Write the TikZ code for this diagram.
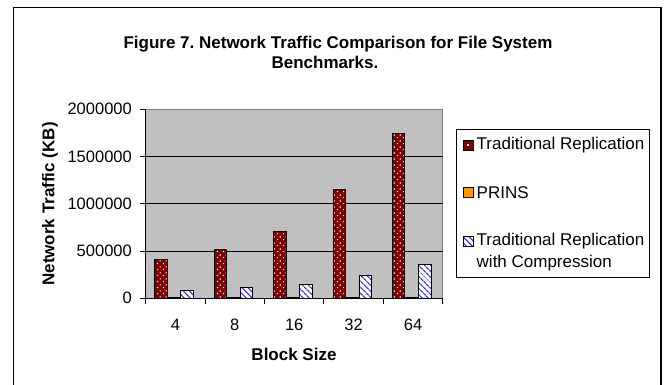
\documentclass[tikz,border=0pt]{standalone}
\usepackage{fontspec}
\setmainfont{Liberation Sans}
\usetikzlibrary{patterns,patterns.meta}
\definecolor{trad}{RGB}{128,0,0}
\definecolor{prins}{RGB}{255,153,0}
\definecolor{hatch}{RGB}{51,51,255}
\definecolor{plotbg}{RGB}{192,192,192}
\definecolor{plotedge}{RGB}{128,128,128}
\tikzdeclarepattern{name=wdots, type=uncolored,
  bounding box={(0pt,0pt) and (6pt,6pt)}, tile size={(6pt,6pt)},
  code={\fill (1pt,1pt) rectangle (2.3pt,2.3pt); \fill (4pt,4pt) rectangle (5.3pt,5.3pt);}}
\frenchspacing
\begin{document}
\begin{tikzpicture}[x=1pt,y=-1pt,
  lbl/.style={font=\fontsize{16.5}{19}\selectfont, inner sep=0pt},
  legtext/.style={font=\fontsize{17}{19}\selectfont, inner sep=0pt},
  ttl/.style={font=\bfseries\fontsize{17}{20}\selectfont, inner sep=0pt},
  tradbar/.style={preaction={fill=trad}, pattern=wdots, pattern color=white, draw=black, line width=0.9pt},
  prinsbar/.style={fill=prins, draw=black, line width=0.9pt},
  compbar/.style={preaction={fill=white}, pattern={Lines[angle=-45,distance=4pt,line width=1.3pt]}, pattern color=hatch, draw=black, line width=0.9pt},
  grid/.style={draw=black, line width=0.9pt},
  axisline/.style={draw=black, line width=0.9pt}]
\useasboundingbox (0,0) rectangle (667,385);
\fill[white] (0,0) rectangle (667,385);
% outer frame
\draw[line width=1.4pt] (13.3,386) -- (13.3,7.5) -- (661,7.5) -- (661,386);
% title
\node[ttl] (title1) at (338,44.5) {Figure 7. Network Traffic Comparison for File System};
\node[ttl] (title2) at (325,62.5) {Benchmarks.};
% plot area
\fill[plotbg] (145.7,109) rectangle (442.7,298.3);
\draw[plotedge, line width=0.9pt] (145.7,109) -- (442.7,109) -- (442.7,298.3);
\foreach \v in {500,1000,1500} {
  \pgfmathsetmacro\yy{298.3-\v/2000*189.3}
  \draw[grid] (145.7,\yy) -- (442.7,\yy);
}
% bars
\foreach \i/\r/\p/\b in {0/408/8/85, 1/521/8/112, 2/704/8/144, 3/1155/8/243, 4/1746/8/355} {
  \pgfmathsetmacro\c{145.7+59.4*(\i+0.5)}
  \pgfmathsetmacro\yr{298.3-\r/2000*189.3}
  \pgfmathsetmacro\yp{298.3-\p/2000*189.3}
  \pgfmathsetmacro\yb{298.3-\b/2000*189.3}
  \draw[tradbar] ({\c-20.5},298.3) rectangle ({\c-8.2},\yr);
  \draw[prinsbar] ({\c-8.2},298.3) rectangle ({\c+5.5},\yp);
  \draw[compbar] ({\c+5.5},298.3) rectangle ({\c+18},\yb);
}
% axes
\draw[axisline] (145.7,109) -- (145.7,298.3) -- (442.7,298.3);
\foreach \k/\t in {0/0,1/500000,2/1000000,3/1500000,4/2000000} {
  \pgfmathsetmacro\yy{298.3-\k*47.325}
  \draw[axisline] (140,\yy) -- (145.7,\yy);
  \node[lbl, anchor=east] (yl\k) at (132,\yy) {\t};
}
\foreach \k in {0,...,5} {
  \pgfmathsetmacro\xx{145.7+59.4*\k}
  \draw[axisline] (\xx,298.3) -- (\xx,303.8);
}
\foreach \k/\t in {0/4,1/8,2/16,3/32,4/64} {
  \pgfmathsetmacro\xx{145.7+59.4*(\k+0.5)}
  \node[lbl] (xl\k) at (\xx,325) {\t};
}
% axis titles
\node[ttl] (xtitle) at (294,354) {Block Size};
\node[ttl, rotate=90] (ytitle) at (50,204) {Network Traffic (KB)};
% legend
\draw[line width=0.9pt] (456.7,129) rectangle (649.3,277);
\draw[fill=trad, draw=black, line width=0.8pt] (463,140) rectangle (473,150);
\fill[white] (467.4,144.4) rectangle (468.6,145.6);
\node[legtext, anchor=west] (leg1) at (476.5,145) {Traditional Replication};
\draw[prinsbar] (463,187.5) rectangle (473,197.5);
\node[legtext, anchor=west] (leg2) at (476.5,192.5) {PRINS};
\draw[compbar, line width=0.8pt] (463,236) rectangle (473,246);
\node[legtext, anchor=west] (leg3) at (476.5,241) {Traditional Replication};
\node[legtext, anchor=west] (leg3b) at (476.5,263.5) {with Compression};
\end{tikzpicture}
\end{document}
